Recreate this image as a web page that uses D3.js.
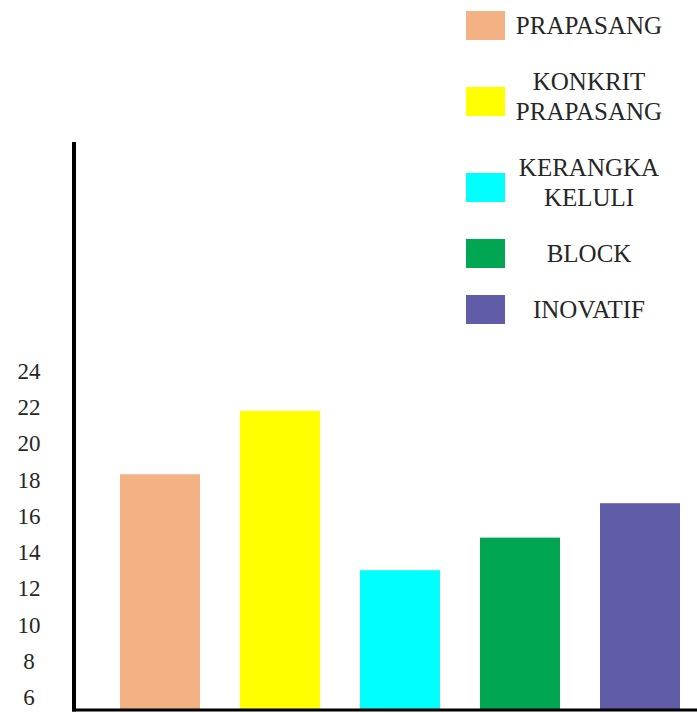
<!DOCTYPE html>
<html>
<head>
<meta charset="utf-8">
<script src="https://cdn.jsdelivr.net/npm/d3@7"></script>
<style>
  html, body { margin: 0; padding: 0; background: #fff; }
  svg { display: block; }
</style>
</head>
<body>
<svg width="697" height="713"></svg>
<script>
// data
const categories = ["PRAPASANG", "KONKRIT PRAPASANG", "KERANGKA KELULI", "BLOCK", "INOVATIF"];
const values = [18.3, 21.8, 13, 14.8, 16.7];
const colors = ["#f4b183", "#ffff00", "#00ffff", "#00a651", "#605ca8"];
const legendLines = [["PRAPASANG"], ["KONKRIT", "PRAPASANG"], ["KERANGKA", "KELULI"], ["BLOCK"], ["INOVATIF"]];
const yTicks = [6, 8, 10, 12, 14, 16, 18, 20, 22, 24];

const svg = d3.select("svg");
const width = +svg.attr("width");
const height = +svg.attr("height");

const font = "'Liberation Serif', 'Times New Roman', serif";
const textColor = "#262626";

const axisX = 74;
const baseY = 709;

const x = d3.scaleBand()
  .domain(categories)
  .range([90, 710])
  .paddingInner(1 / 3)
  .paddingOuter(0.25);

const y = d3.scaleLinear().domain([6, 24]).range([697, 371]);

svg.append("rect")
  .attr("width", width)
  .attr("height", height)
  .attr("fill", "white");

// bars
svg.selectAll(".bar")
  .data(categories)
  .enter()
  .append("rect")
  .attr("class", "bar")
  .attr("x", d => x(d))
  .attr("width", x.bandwidth())
  .attr("y", (d, i) => y(values[i]))
  .attr("height", (d, i) => baseY - y(values[i]))
  .attr("fill", (d, i) => colors[i]);

// axes (plain lines, like the original)
svg.append("line")
  .attr("x1", axisX).attr("x2", axisX)
  .attr("y1", 142).attr("y2", baseY + 2.5)
  .attr("stroke", "#000")
  .attr("stroke-width", 4);

svg.append("line")
  .attr("x1", axisX - 2).attr("x2", width)
  .attr("y1", baseY + 1).attr("y2", baseY + 1)
  .attr("stroke", "#000")
  .attr("stroke-width", 3);

// y tick labels
svg.selectAll(".ytick")
  .data(yTicks)
  .enter()
  .append("text")
  .attr("class", "ytick")
  .attr("x", 29)
  .attr("y", d => y(d))
  .attr("dy", "0.35em")
  .attr("text-anchor", "middle")
  .attr("font-family", font)
  .attr("font-size", "23px")
  .attr("fill", textColor)
  .text(d => d);

// legend
const lineH = 30;
const gap = 26;
let cy = 25;
const centers = legendLines.map((lines, i) => {
  if (i > 0) cy += (legendLines[i - 1].length + lines.length) * lineH / 2 + gap;
  return cy;
});

const legend = svg.append("g");
legendLines.forEach((lines, i) => {
  const c = centers[i];
  legend.append("rect")
    .attr("x", 466)
    .attr("y", c - 14 + (lines.length - 1) * 5)
    .attr("width", 39)
    .attr("height", 29)
    .attr("fill", colors[i]);

  lines.forEach((t, j) => {
    legend.append("text")
      .attr("x", 589)
      .attr("y", c + (j - (lines.length - 1) / 2) * lineH)
      .attr("dy", "0.35em")
      .attr("text-anchor", "middle")
      .attr("font-family", font)
      .attr("font-size", "25px")
      .attr("fill", textColor)
      .text(t);
  });
});
</script>
</body>
</html>
